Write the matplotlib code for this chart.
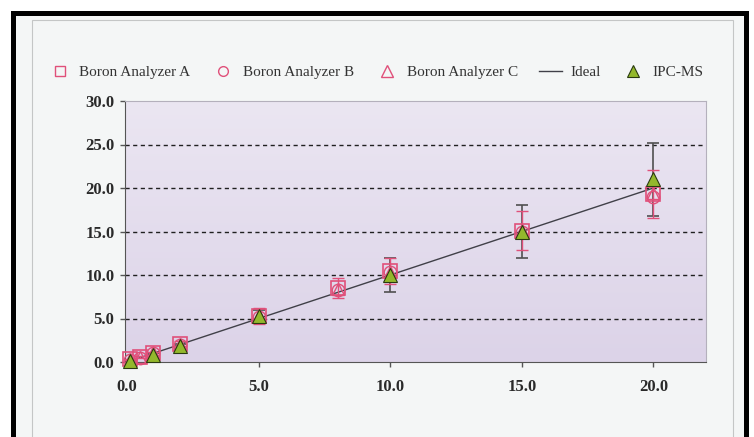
import matplotlib

matplotlib.use("Agg")
import matplotlib.pyplot as plt
import numpy as np
from matplotlib.patches import Rectangle
from matplotlib.lines import Line2D

# --- data ---
conc = [0.1, 0.5, 1.0, 2.0, 5.0, 8.0, 10.0, 15.0, 20.0]
analyzer_a = [0.3, 0.6, 1.0, 2.1, 5.3, 8.5, 10.5, 15.1, 19.3]
analyzer_b = [0.2, 0.5, 1.0, 2.0, 5.2, 8.3, 10.3, 15.0, 19.0]
analyzer_c = [0.3, 0.6, 1.1, 2.1, 5.4, 8.4, 10.4, 15.2, 19.4]
analyzer_err = [0.1, 0.1, 0.2, 0.3, 0.9, 1.2, 1.5, 2.2, 2.8]

icp_conc = [0.1, 1.0, 2.0, 5.0, 10.0, 15.0, 20.0]
icp_ms = [0.1, 0.8, 1.8, 5.3, 10.0, 15.0, 21.0]
icp_err = [0.1, 0.2, 0.3, 0.7, 2.0, 3.0, 4.2]

ideal_x = [0.0, 20.0]
ideal_y = [0.0, 20.0]

x_ticks = [0.0, 5.0, 10.0, 15.0, 20.0]
y_ticks = [0.0, 5.0, 10.0, 15.0, 20.0, 25.0, 30.0]

W, H = 754, 437
PINK = "#e0507a"
GREEN = "#93b82c"

plt.rcParams["font.family"] = ["Liberation Serif", "DejaVu Serif"]

fig = plt.figure(figsize=(W / 100, H / 100), dpi=100)
fig.patch.set_facecolor("white")


def px_rect(x0, y0, x1, y1, **kw):
    """Rectangle given in pixel coords (origin top-left)."""
    return Rectangle((x0 / W, 1 - y1 / H), (x1 - x0) / W, (y1 - y0) / H,
                     transform=fig.transFigure, **kw)


# outer frame: black border, light gray panel, thin inner outline
fig.add_artist(px_rect(11, 11, 749, 440, facecolor="black", edgecolor="none", zorder=0))
fig.add_artist(px_rect(16, 16, 744, 440, facecolor="#f4f6f6", edgecolor="none", zorder=0))
fig.add_artist(px_rect(32, 20, 733, 440, facecolor="none", edgecolor="#c4c6c6", lw=0.8, zorder=0))

ax = fig.add_axes([125 / W, 1 - 362 / H, (706 - 125) / W, (362 - 101) / H])
ax.set_facecolor("none")
ax.set_xlim(-0.08, 22.0)
ax.set_ylim(0, 30)

# lavender gradient background
grad = np.linspace(0, 1, 256).reshape(-1, 1)
cmap = matplotlib.colors.LinearSegmentedColormap.from_list("bg", ["#dcd3e8", "#ebe6f2"])
ax.imshow(grad, cmap=cmap, aspect="auto", extent=[-0.08, 22.0, 0, 30],
          origin="lower", zorder=0)

for y in y_ticks[1:-1]:
    ax.axhline(y, color="#202020", lw=1.0, ls=(0, (3, 2.5)), zorder=1)

ax.plot(ideal_x, ideal_y, color="#404048", lw=1.0, zorder=2)

ax.errorbar(icp_conc, icp_ms, yerr=icp_err, fmt="none", ecolor="#505050",
            elinewidth=1.2, capsize=4, capthick=1.2, zorder=3)
ax.errorbar(conc, analyzer_a, yerr=analyzer_err, fmt="none", ecolor=PINK,
            elinewidth=1.0, capsize=4, capthick=1.0, zorder=3)

ax.plot(conc, analyzer_a, ls="none", marker="s", ms=10, mfc="none", mec=PINK,
        mew=1.2, zorder=4, clip_on=False)
ax.plot(conc, analyzer_b, ls="none", marker="o", ms=9, mfc="none", mec=PINK,
        mew=1.0, zorder=4, clip_on=False)
ax.plot(conc, analyzer_c, ls="none", marker="^", ms=9, mfc="none", mec=PINK,
        mew=1.0, zorder=4, clip_on=False)
ax.plot(icp_conc, icp_ms, ls="none", marker="^", ms=10, mfc=GREEN, mec="#2a3a10",
        mew=0.8, zorder=5, clip_on=False)

ax.set_xticks(x_ticks)
ax.set_yticks(y_ticks)
ax.set_xticklabels([f"{v:.1f}" for v in x_ticks])
ax.set_yticklabels([f"{v:.1f}" for v in y_ticks])
ax.tick_params(direction="out", length=3.5, width=1, color="#555555",
               labelsize=12, labelcolor="#2a2a2a")
for lab in ax.get_xticklabels() + ax.get_yticklabels():
    lab.set_fontweight("bold")
ax.tick_params(axis="x", pad=8.5)
ax.tick_params(axis="y", pad=4)

for side in ["left", "bottom"]:
    ax.spines[side].set_color("#555555")
for side in ["top", "right"]:
    ax.spines[side].set_color("#b4b0bc")

handles = [
    Line2D([], [], ls="none", marker="s", ms=7, mfc="none", mec=PINK, mew=1.0),
    Line2D([], [], ls="none", marker="o", ms=7, mfc="none", mec=PINK, mew=1.0),
    Line2D([], [], ls="none", marker="^", ms=8, mfc="none", mec=PINK, mew=1.0),
    Line2D([], [], color="#404048", lw=1.0),
    Line2D([], [], ls="none", marker="^", ms=8, mfc=GREEN, mec="#2a3a10", mew=0.8),
]
labels = ["Boron Analyzer A", "Boron Analyzer B", "Boron Analyzer C", "Ideal", "IPC-MS"]
fig.legend(handles, labels, loc="center", bbox_to_anchor=(376 / W, 1 - 72 / H),
           ncol=5, frameon=False, fontsize=11, handlelength=1.5,
           handletextpad=0.55, columnspacing=1.38, labelcolor="#333333")

fig.savefig("out.png", dpi=100)
